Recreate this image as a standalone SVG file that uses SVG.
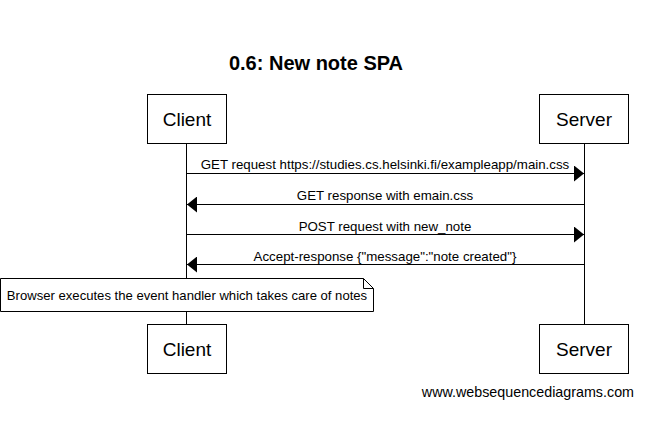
<svg xmlns="http://www.w3.org/2000/svg" width="668" height="427" viewBox="0 0 668 427">
<style>
text{font-family:"Liberation Sans",Arial,sans-serif;fill:#000}
.box{fill:#fff;stroke:#000;stroke-width:1}
.pt{font-size:19px;text-anchor:middle}
.ml{font-size:13.3px;text-anchor:middle}
.line{stroke:#000;stroke-width:1;fill:none}
</style>
<defs>
<marker id="ah" markerWidth="11" markerHeight="16" refX="10" refY="8" orient="auto" markerUnits="userSpaceOnUse">
<path d="M0,0 L10,8 L0,16 Z" fill="#000"/>
</marker>
</defs>
<rect width="668" height="427" fill="#fff"/>
<text x="316" y="70" font-size="20" font-weight="bold" text-anchor="middle">0.6: New note SPA</text>
<g id="lifelines">
<line class="line" x1="186.5" y1="143" x2="186.5" y2="324"/>
<line class="line" x1="584.5" y1="143" x2="584.5" y2="324"/>
</g>
<g id="connectors">
<line class="line" x1="186.5" y1="173.5" x2="584" y2="173.5" marker-end="url(#ah)"/>
<text class="ml" x="385" y="169">GET request https://studies.cs.helsinki.fi/exampleapp/main.css</text>
<line class="line" x1="584.5" y1="204.5" x2="187" y2="204.5" marker-end="url(#ah)"/>
<text class="ml" x="385" y="200">GET response with emain.css</text>
<line class="line" x1="186.5" y1="234.5" x2="584" y2="234.5" marker-end="url(#ah)"/>
<text class="ml" x="385" y="231">POST request with new_note</text>
<line class="line" x1="584.5" y1="264.5" x2="187" y2="264.5" marker-end="url(#ah)"/>
<text class="ml" x="385" y="261">Accept-response {"message":"note created"}</text>
</g>
<g id="note">
<path class="box" d="M0.5,278.5 H363.5 L373.5,288.5 V311.5 H0.5 Z"/>
<path class="line" d="M363.5,278.5 V288.5 H373.5"/>
<text x="187" y="300" font-size="13.1" text-anchor="middle">Browser executes the event handler which takes care of notes</text>
</g>
<g id="client-top">
<rect class="box" x="147.5" y="94.5" width="79" height="49"/>
<text class="pt" x="187" y="126">Client</text>
</g>
<g id="server-top">
<rect class="box" x="539.5" y="94.5" width="89" height="49"/>
<text class="pt" x="584" y="126">Server</text>
</g>
<g id="client-bottom">
<rect class="box" x="147.5" y="324.5" width="79" height="49"/>
<text class="pt" x="187" y="356">Client</text>
</g>
<g id="server-bottom">
<rect class="box" x="539.5" y="324.5" width="89" height="49"/>
<text class="pt" x="584" y="356">Server</text>
</g>
<text x="634" y="397" font-size="14.3" text-anchor="end">www.websequencediagrams.com</text>
</svg>
